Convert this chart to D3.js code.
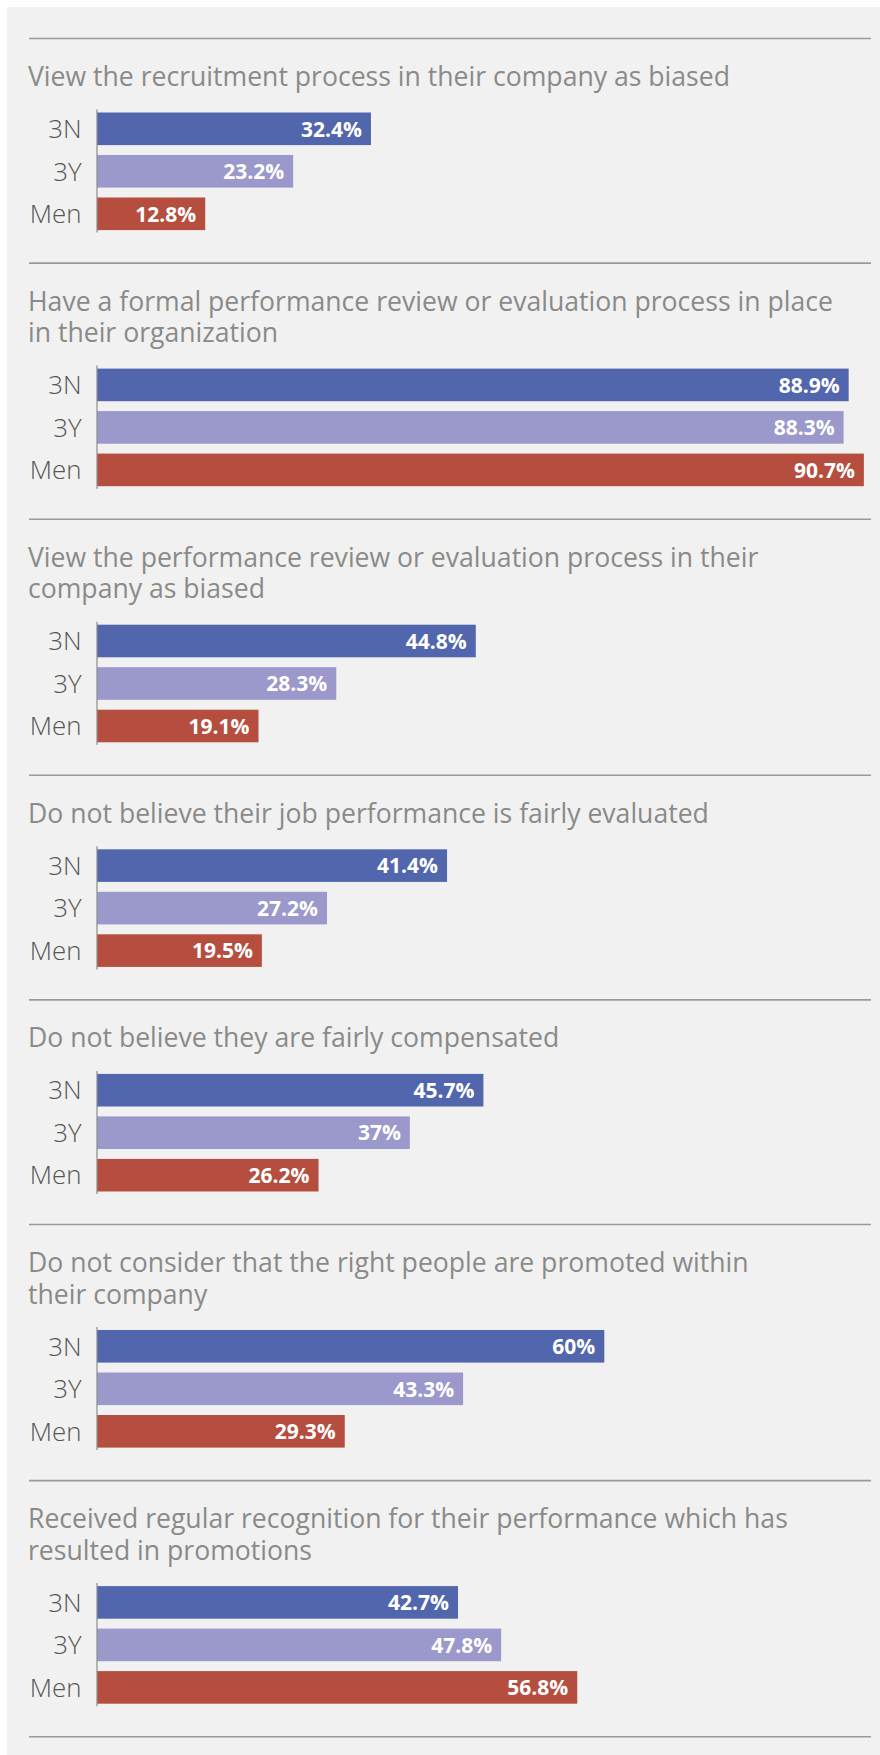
<!DOCTYPE html>
<html>
<head>
<meta charset="utf-8">
<script src="https://cdn.jsdelivr.net/npm/d3@7"></script>
<style>
  html, body { margin: 0; padding: 0; background: #ffffff; }
  svg { display: block; }
</style>
</head>
<body>
<svg id="chart" width="880" height="1755"></svg>
<script>
// ---- data ----
const titles = [
  ["View the recruitment process in their company as biased"],
  ["Have a formal performance review or evaluation process in place", "in their organization"],
  ["View the performance review or evaluation process in their", "company as biased"],
  ["Do not believe their job performance is fairly evaluated"],
  ["Do not believe they are fairly compensated"],
  ["Do not consider that the right people are promoted within", "their company"],
  ["Received regular recognition for their performance which has", "resulted in promotions"]
];
const groups = ["3N", "3Y", "Men"];
const values3N  = [32.4, 88.9, 44.8, 41.4, 45.7, 60.0, 42.7];
const values3Y  = [23.2, 88.3, 28.3, 27.2, 37.0, 43.3, 47.8];
const valuesMen = [12.8, 90.7, 19.1, 19.5, 26.2, 29.3, 56.8];
const labels3N  = ["32.4%", "88.9%", "44.8%", "41.4%", "45.7%", "60%", "42.7%"];
const labels3Y  = ["23.2%", "88.3%", "28.3%", "27.2%", "37%", "43.3%", "47.8%"];
const labelsMen = ["12.8%", "90.7%", "19.1%", "19.5%", "26.2%", "29.3%", "56.8%"];

// ---- layout ----
const svg = d3.select("#chart");
const W = 880, H = 1755;
const colors = d3.scaleOrdinal().domain(groups).range(["#5266ae", "#9b98cb", "#b54e3e"]);
const x = d3.scaleLinear().domain([0, 100]).range([97, 942.5]);

svg.append("rect").attr("x", 7).attr("y", 7).attr("width", W - 7).attr("height", H - 7)
  .attr("fill", "#f1f1f1");

const font = "'Open Sans', 'Noto Sans', sans-serif";
const lineL = 29, lineR = 871;
const titleLH = 31.5;
const barsBlock = 117.6;

let lineY = 38.5;
function sepLine(y) {
  svg.append("line").attr("x1", lineL).attr("x2", lineR).attr("y1", y).attr("y2", y)
    .attr("stroke", "#9a9a97").attr("stroke-width", 1.6);
}
sepLine(lineY);

titles.forEach((t, i) => {
  const g = svg.append("g");
  const title = g.append("text")
    .attr("font-family", font).attr("font-size", 26.6).attr("fill", "#8a8a88");
  t.forEach((ln, k) => {
    title.append("tspan").attr("x", lineL - 1).attr("y", lineY + 47.5 + k * titleLH).text(ln);
  });
  const top = lineY + 74 + (t.length - 1) * titleLH;
  const y = d3.scaleBand().domain(groups).range([top, top + barsBlock]).paddingInner(0.233);
  const rows = groups.map((gname, j) => ({
    g: gname,
    v: [values3N, values3Y, valuesMen][j][i],
    l: [labels3N, labels3Y, labelsMen][j][i]
  }));

  g.selectAll("rect.bar").data(rows).join("rect").attr("class", "bar")
    .attr("x", x(0)).attr("y", d => y(d.g))
    .attr("width", d => x(d.v) - x(0)).attr("height", y.bandwidth())
    .attr("fill", d => colors(d.g));

  // axis
  const axis = d3.axisLeft(y).tickSize(0).tickPadding(15.5);
  const ag = g.append("g").attr("transform", `translate(${x(0)},0)`).call(axis);
  ag.select(".domain").attr("stroke", "#8c8c8c").attr("stroke-width", 1.2)
    .attr("d", `M0,${top - 3}V${top + barsBlock + 2.5}`);
  ag.selectAll(".tick text").attr("font-family", font).attr("font-size", 25.8)
    .attr("font-weight", 300).attr("fill", "#555555").attr("dy", "0.36em");

  g.selectAll("text.val").data(rows).join("text").attr("class", "val")
    .attr("x", d => x(d.v) - 9).attr("y", d => y(d.g) + y.bandwidth() / 2)
    .attr("dy", "0.37em").attr("text-anchor", "end")
    .attr("font-family", font).attr("font-size", 21).attr("font-weight", 700)
    .attr("fill", "#ffffff").text(d => d.l);

  lineY = top + barsBlock + 33;
  sepLine(lineY);
});
</script>
</body>
</html>
